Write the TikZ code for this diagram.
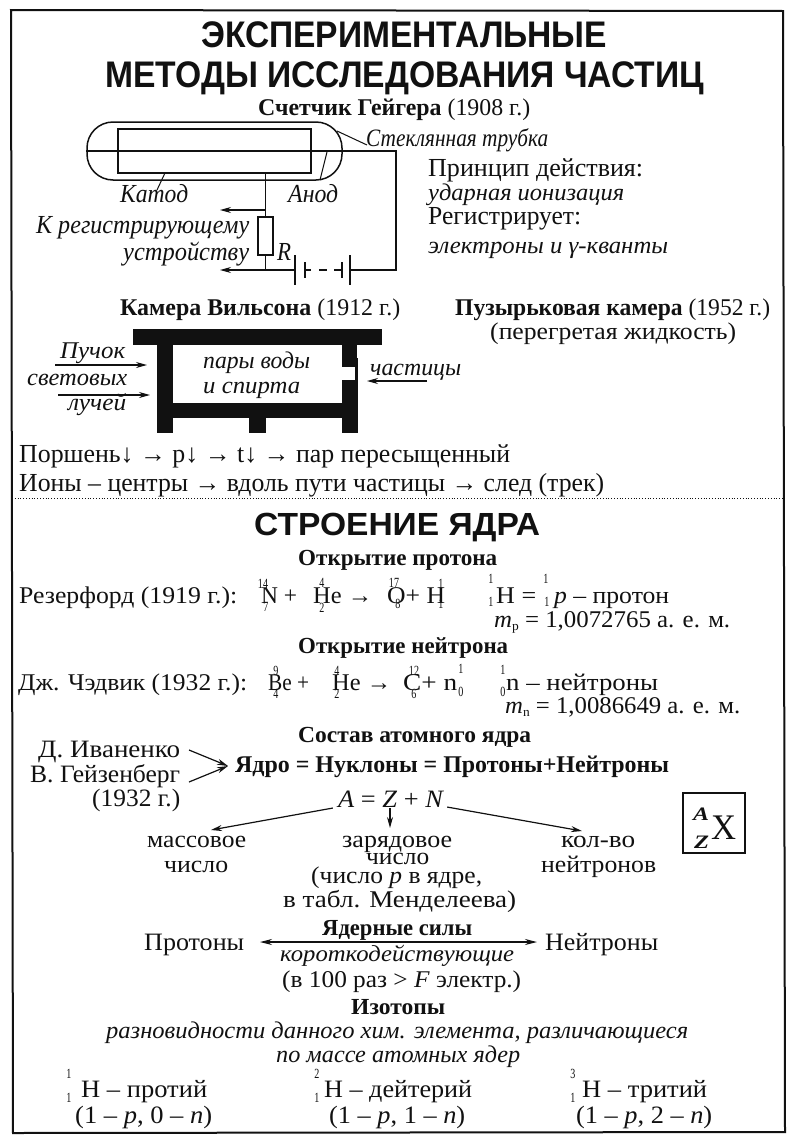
\documentclass[tikz,border=0pt]{standalone}
\usepackage{graphicx}
\usepackage{fontspec}
\setmainfont{Liberation Serif}
\setsansfont{Liberation Sans}
\usetikzlibrary{arrows.meta}
\newcommand\fz[1]{\fontsize{#1}{#1}\selectfont}
\newsavebox\fitbox
\newcommand\fit[2]{\sbox\fitbox{#2}\pgfmathsetmacro\fitr{#1/\the\wd\fitbox}\scalebox{\fitr}[1]{\usebox\fitbox}}
\newcommand\T[6]{\node[txt,#5] (#1) at (#2,#3) {\fit{#4}{#6}};}
\newcommand\Sc[4]{\node[scr] (#1) at (#2,#3) {\scalebox{.72}[1]{#4}};}
\definecolor{ink}{HTML}{111111}
\tikzset{
 txt/.style={anchor=base west,inner sep=0pt,text=ink},
 scr/.style={anchor=base,inner sep=0pt,text=ink,font=\fz{14}},
 r/.style={font=\fz{#1}},
 b/.style={font=\fz{#1}\bfseries},
 i/.style={font=\fz{#1}\itshape},
 h/.style={font=\fz{#1}\sffamily\bfseries},
 wire/.style={draw=ink,line width=1.5pt},
 thinw/.style={draw=ink,line width=1pt},
 arr/.style={draw=ink,line width=1.2pt,-{Stealth[length=11pt,width=6pt]}},
 solidb/.style={fill=ink,draw=none},
}
\begin{document}
\begin{tikzpicture}[x=1pt,y=-1pt]
\useasboundingbox (0,0) rectangle (800,1146);
\fill[white] (0,0) rectangle (800,1146);
\draw[ink,line width=2pt] (11,10) -- (783,11) -- (785,1132) -- (13,1133) -- cycle;
\coordinate (sepL) at (12,498); \coordinate (sepR) at (784,498);
\draw[ink,line width=0.8pt,dotted] (sepL) -- (sepR);
% titles
\T{t1}{201}{47}{406}{h=37}{ЭКСПЕРИМЕНТАЛЬНЫЕ}
\T{t2}{105}{87}{599}{h=37}{МЕТОДЫ ИССЛЕДОВАНИЯ ЧАСТИЦ}
\T{g0}{258}{115}{272}{r=24}{\textbf{Счетчик Гейгера} (1908 г.)}
\T{g1}{366}{146}{182}{i=25}{Стеклянная трубка}
\T{g2}{428}{176}{215}{r=26}{Принцип действия:}
\T{g3}{428}{200}{196}{i=24}{ударная ионизация}
\T{g4}{428}{224}{153}{r=26}{Регистрирует:}
\T{g5}{428}{253}{240}{i=24}{электроны и γ-кванты}
\T{g6}{120}{202}{68}{i=26}{Катод}
\T{g7}{288}{202}{50}{i=26}{Анод}
\T{g8}{36}{233}{213}{i=26}{К регистрирующему}
\T{g9}{123}{260}{126}{i=26}{устройству}
\T{g10}{277}{260}{14}{i=26}{R}
% Geiger counter
\node[wire,rounded corners=26pt,minimum width=255pt,minimum height=58pt,inner sep=0pt] (tube) at (214.5,151) {};
\node[wire,minimum width=193pt,minimum height=44pt,inner sep=0pt] (cath) at (214.5,151) {};
\node[wire,minimum width=15pt,minimum height=38pt,inner sep=0pt] (res) at (265.5,236) {};
\coordinate (c1) at (396,151); \coordinate (c2) at (396,270);
\coordinate (b1) at (295,255); \coordinate (b1b) at (295,285);
\coordinate (b2) at (305,262); \coordinate (b2b) at (305,278);
\coordinate (b3) at (342,262); \coordinate (b3b) at (342,278);
\coordinate (b4) at (350,255); \coordinate (b4b) at (350,285);
\coordinate (j1) at (265.5,210); \coordinate (j2) at (265.5,270);
\coordinate (o1) at (220,210); \coordinate (o2) at (220,270);
\coordinate (bm1) at (295,270); \coordinate (bm2) at (305,270); \coordinate (bm3) at (342,270); \coordinate (bm4) at (350,270);
\coordinate (d1) at (319,270); \coordinate (d2) at (327,270);
\draw[wire] (tube.west) -- (c1) -- (c2) -- (bm4);
\draw[wire] (cath.south -| res) -- (res.north);
\draw[wire] (res.south) -- (j2) -- (bm1);
\draw[wire] (b1) -- (b1b) (b4) -- (b4b) (b2) -- (b2b) (b3) -- (b3b);
\draw[wire] (bm2) -- (311,270) (d1) -- (d2) (334,270) -- (bm3);
\draw[arr] (j1) -- (o1);
\draw[arr] (j2) -- (o2);
\coordinate (l1a) at (165,173); \coordinate (l1b) at (157,190);
\coordinate (l2a) at (327,152); \coordinate (l2b) at (320,180);
\coordinate (l3a) at (337,131); \coordinate (l3b) at (367,145);
\draw[thinw] (l1a) -- (l1b) (l2a) -- (l2b) (l3a) -- (l3b);
% Wilson
\T{w0}{120}{315}{280}{r=24}{\textbf{Камера Вильсона} (1912 г.)}
\T{w1}{455}{315}{315}{r=24}{\textbf{Пузырьковая камера} (1952 г.)}
\T{w2}{490}{339}{246}{r=24}{(перегретая жидкость)}
\T{w3}{60}{358}{65}{i=24}{Пучок}
\T{w4}{27}{385}{100}{i=24}{световых}
\T{w5}{68}{410}{58}{i=24}{лучей}
\T{w6}{203}{368}{107}{i=24}{пары воды}
\T{w7}{203}{393}{97}{i=24}{и спирта}
\T{w8}{370}{375}{91}{i=24}{частицы}
\fill[solidb] (133,329) rectangle (382,345);
\fill[solidb] (157,345) rectangle (173,433);
\fill[solidb] (342,345) rectangle (358,433);
\fill[solidb] (173,403) rectangle (342,418);
\fill[solidb] (249,418) rectangle (266,433);
\fill[white] (342,367) rectangle (355,380);
\fill[white] (357,345) rectangle (359,358);
\coordinate (a1) at (55,365); \coordinate (a1e) at (147,365);
\coordinate (a2) at (58,395); \coordinate (a2e) at (150,395);
\coordinate (a3) at (427,381); \coordinate (a3e) at (367,381);
\draw[arr] (a1) -- (a1e);
\draw[arr] (a2) -- (a2e);
\draw[arr] (a3) -- (a3e);
\T{w9}{19}{462}{491}{r=26}{Поршень↓ → p↓ → t↓ → пар пересыщенный}
\T{w10}{19}{491}{585}{r=26}{Ионы – центры → вдоль пути частицы → след (трек)}
% Nucleus
\T{s0}{254}{535}{286}{h=32}{СТРОЕНИЕ ЯДРА}
\T{p0}{298}{565}{199}{b=23}{Открытие протона}
\T{p1}{19}{603}{218}{r=24}{Резерфорд (1919 г.):}
\T{p2}{261}{603}{36}{r=24}{N +}
\Sc{p2a}{263}{588}{14} \Sc{p2b}{266}{611}{7}
\T{p3}{313}{603}{59}{r=24}{He →}
\Sc{p3a}{322}{587}{4} \Sc{p3b}{322}{612}{2}
\T{p4}{387}{603}{58}{r=24}{O+ H}
\Sc{p4a}{394}{587}{17} \Sc{p4b}{398}{608}{8}
\Sc{p4c}{441}{588}{1} \Sc{p4d}{441}{608}{1}
\T{p5}{496}{603}{40}{r=24}{H =}
\Sc{p5a}{491}{583}{1} \Sc{p5b}{491}{606}{1}
\T{p6}{554}{603}{115}{r=24}{\textit{p} – протон}
\Sc{p6a}{546}{583}{1} \Sc{p6b}{547}{606}{1}
\T{p7}{494}{627}{236}{r=24}{\textit{m}\raisebox{-3pt}{\fz{13}p} = 1,0072765 а. е. м.}
\T{n0}{298}{653}{210}{b=23}{Открытие нейтрона}
\T{n1}{18}{690}{229}{r=24}{Дж. Чэдвик (1932 г.):}
\T{n2}{268}{690}{41}{r=24}{Be +}
\Sc{n2a}{276}{675}{9} \Sc{n2b}{276}{698}{4}
\T{n3}{332}{690}{59}{r=24}{He →}
\Sc{n3a}{337}{675}{4} \Sc{n3b}{337}{698}{2}
\T{n4}{403}{690}{54}{r=24}{C+ n}
\Sc{n4a}{414}{675}{12} \Sc{n4b}{414}{698}{6}
\Sc{n4c}{461}{673}{1} \Sc{n4d}{461}{696}{0}
\T{n5}{506}{690}{152}{r=24}{n – нейтроны}
\Sc{n5a}{503}{674}{1} \Sc{n5b}{503}{696}{0}
\T{n6}{505}{713}{235}{r=24}{\textit{m}\raisebox{-3pt}{\fz{13}n} = 1,0086649 а. е. м.}
\T{c0}{298}{742}{233}{b=23}{Состав атомного ядра}
\T{c1t}{38}{757}{142}{r=25}{Д. Иваненко}
\T{c2t}{30}{782}{150}{r=25}{В. Гейзенберг}
\T{c3t}{92}{806}{88}{r=25}{(1932 г.)}
\T{c4}{235}{772}{434}{b=24}{Ядро = Нуклоны = Протоны+Нейтроны}
\coordinate (e1) at (189,750); \coordinate (e2) at (189,782); \coordinate (e3) at (228,766);
\draw[arr] (e1) -- (e3);
\draw[arr] (e2) -- (e3);
\T{c5}{338}{807}{106}{r=25}{\textit{A} = \textit{Z} + \textit{N}}
\node[inner sep=0pt,minimum size=0pt] (mA) at (333,808) {};
\node[inner sep=0pt,minimum size=0pt] (mZ) at (390,808) {};
\node[inner sep=0pt,minimum size=0pt] (mN) at (447,807) {};
\T{c6}{147}{847}{99}{r=24}{массовое}
\T{c7}{164}{872}{64}{r=24}{число}
\T{c8}{342}{847}{110}{r=24}{зарядовое}
\T{c9}{366}{864}{63}{r=24}{число}
\T{c10}{311}{883}{171}{r=24}{(число \textit{p} в ядре,}
\T{c11}{283}{907}{233}{r=24}{в табл. Менделеева)}
\T{c12}{561}{847}{74}{r=24}{кол-во}
\T{c13}{541}{872}{115}{r=24}{нейтронов}
\coordinate (ea) at (211,830); \coordinate (ez) at (390,828); \coordinate (en) at (582,831);
\draw[arr] (mA) -- (ea);
\draw[arr] (mZ) -- (ez);
\draw[arr] (mN) -- (en);
\node[wire,minimum width=62pt,minimum height=60pt,inner sep=0pt] (xbox) at (714,823) {};
\T{x0}{711}{839}{25}{r=36}{X}
\T{x1}{693}{820}{16}{font=\fz{19}\bfseries\itshape}{A}
\T{x2}{694}{848}{15}{font=\fz{19}\bfseries\itshape}{Z}
\T{f0}{144}{950}{100}{r=25}{Протоны}
\T{f1}{545}{950}{113}{r=25}{Нейтроны}
\T{f2}{322}{935}{150}{b=23}{Ядерные силы}
\T{f3}{280}{961}{234}{i=23}{короткодействующие}
\T{f4}{282}{987}{239}{r=24}{(в 100 раз > \textit{F} электр.)}
\coordinate (fL) at (260,942); \coordinate (fR) at (537,942);
\draw[draw=ink,line width=1.2pt,{Stealth[length=12pt,width=6pt]}-{Stealth[length=12pt,width=6pt]}] (fL) -- (fR);
\T{i0}{351}{1014}{94}{b=23}{Изотопы}
\T{i1}{106}{1038}{582}{i=24}{разновидности данного хим. элемента, различающиеся}
\T{i2}{276}{1062}{244}{i=24}{по массе атомных ядер}
\T{i3}{81}{1097}{126}{r=25}{Н – протий}
\Sc{i3a}{69}{1078}{1} \Sc{i3b}{69}{1102}{1}
\T{i4}{75}{1123}{137}{r=25}{(1 – \textit{p}, 0 – \textit{n})}
\T{i5}{324}{1097}{148}{r=25}{Н – дейтерий}
\Sc{i5a}{317}{1078}{2} \Sc{i5b}{317}{1102}{1}
\T{i6}{329}{1123}{136}{r=25}{(1 – \textit{p}, 1 – \textit{n})}
\T{i7}{582}{1097}{125}{r=25}{Н – тритий}
\Sc{i7a}{573}{1078}{3} \Sc{i7b}{573}{1102}{1}
\T{i8}{576}{1123}{136}{r=25}{(1 – \textit{p}, 2 – \textit{n})}
\end{tikzpicture}
\end{document}
